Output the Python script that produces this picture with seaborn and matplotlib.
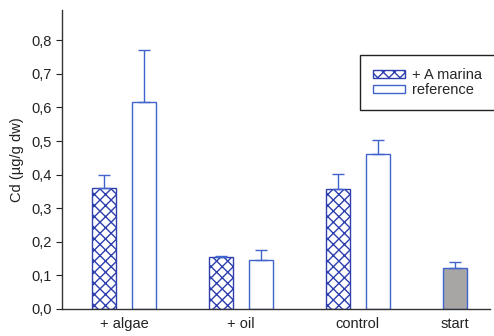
import pandas as pd
import matplotlib
matplotlib.use('Agg')
import matplotlib.pyplot as plt
from matplotlib.patches import Patch
import seaborn as sns

# --- DATA ---
groups = ['+ algae', '+ oil', 'control']
start_group = 'start'
series = ['+ A marina', 'reference']
marina_vals = [0.359, 0.156, 0.356]
marina_err = [0.041, 0.002, 0.047]
reference_vals = [0.617, 0.146, 0.460]
reference_err = [0.154, 0.030, 0.044]
start_vals = [0.121]
start_err = [0.020]
yticks = [0.0, 0.1, 0.2, 0.3, 0.4, 0.5, 0.6, 0.7, 0.8]

BLUE = '#4063cc'
HATCH_BLUE = '#2e3fae'
GRAY = '#a8a6a4'

df_pairs = pd.DataFrame({
    'group': groups * 2,
    'series': [series[0]] * len(groups) + [series[1]] * len(groups),
    'value': marina_vals + reference_vals,
})
df_start = pd.DataFrame({'group': [start_group], 'series': [series[0]], 'value': start_vals})
order = groups + [start_group]

sns.set_theme(style='ticks')
plt.rcParams['font.family'] = ['Liberation Sans', 'DejaVu Sans']
plt.rcParams['hatch.linewidth'] = 1.0

fig, ax = plt.subplots(figsize=(4.94, 3.36), dpi=100)
fig.subplots_adjust(left=0.1255, right=0.992, bottom=0.0804, top=0.97)

bar_kw = dict(x='group', y='value', hue='series', order=order, hue_order=series,
              errorbar=None, width=0.68, gap=0.4, dodge=True, saturation=1,
              legend=False, linewidth=1.0, ax=ax)
sns.barplot(data=df_pairs, palette=['white', 'white'], edgecolor=BLUE, **bar_kw)
marina_bars, ref_bars = ax.containers[0], ax.containers[1]
n_before = len(ax.containers)
sns.barplot(data=df_start, palette=[GRAY, GRAY], edgecolor=BLUE, **bar_kw)
start_bars = [b for c in ax.containers[n_before:] for b in c]

for bar in marina_bars:
    bar.set_hatch('xxx')
    bar.set_edgecolor(HATCH_BLUE)

# upward-only error bars
def add_err(bars, errs):
    for bar, e in zip(bars, errs):
        x = bar.get_x() + bar.get_width() / 2
        ax.errorbar(x, bar.get_height(), yerr=[[0], [e]], fmt='none', ecolor=BLUE,
                    elinewidth=1, capsize=4.5, capthick=1, zorder=1)

add_err(marina_bars, marina_err)
add_err(ref_bars, reference_err)
add_err(start_bars, start_err)

# tick labels centred under each bar group
centers = [(a.get_x() + a.get_width() / 2 + b.get_x() + b.get_width() / 2) / 2
           for a, b in zip(marina_bars, ref_bars)]
centers += [b.get_x() + b.get_width() / 2 for b in start_bars]
ax.set_xticks(centers, labels=order)
ax.set_yticks(yticks, labels=[f'{v:.1f}'.replace('.', ',') for v in yticks])
ax.set_xlim(-0.53, 3.13)
ax.set_ylim(0, 0.89)
ax.tick_params(axis='x', length=0, pad=6, labelsize=10.5, colors='#222222')
ax.tick_params(axis='y', length=4, width=0.8, labelsize=10.5, colors='#222222')
ax.set_xlabel('')
ax.set_ylabel('Cd (µg/g dw)', fontsize=10.5, color='#222222', labelpad=5)
for side in ['top', 'right']:
    ax.spines[side].set_visible(False)
for side in ['left', 'bottom']:
    ax.spines[side].set_color('#333333')
    ax.spines[side].set_linewidth(1.0)

handles = [Patch(facecolor='white', edgecolor=HATCH_BLUE, hatch='xxx', label=series[0]),
           Patch(facecolor='white', edgecolor=BLUE, label=series[1])]
leg = ax.legend(handles=handles, loc='upper right', bbox_to_anchor=(1.012, 0.85),
                frameon=True, fancybox=False, framealpha=1, edgecolor='#222222',
                fontsize=10.5, handlelength=2.2, handleheight=0.5, handletextpad=0.45,
                borderpad=0.9, labelspacing=0.08, borderaxespad=0)
leg.get_frame().set_linewidth(1.0)

fig.savefig('out.png', dpi=100)
